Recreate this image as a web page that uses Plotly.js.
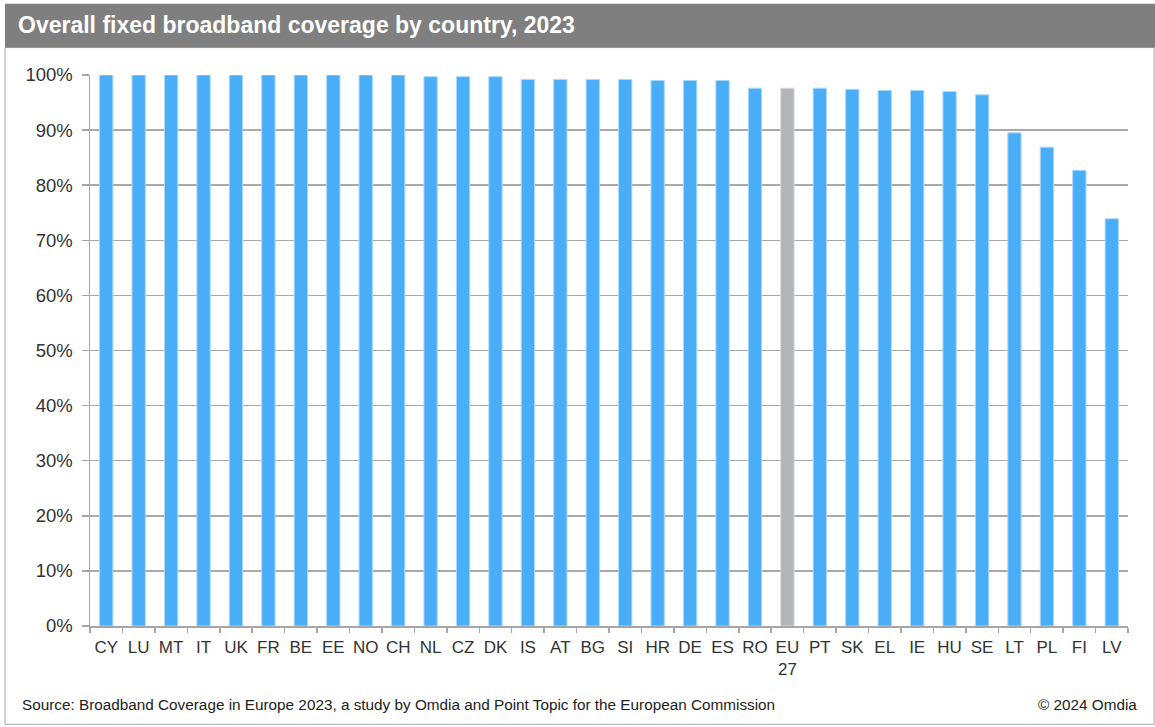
<!DOCTYPE html>
<html>
<head>
<meta charset="utf-8">
<script src="https://cdn.plot.ly/plotly-3.0.1.min.js"></script>
<style>
  html, body { margin: 0; padding: 0; background: #fff; }
  #chart { width: 1155px; height: 727px; }
</style>
</head>
<body>
<div id="chart"></div>
<script>
// Overall fixed broadband coverage by country, 2023 (share of households, %)
const countries = ['CY','LU','MT','IT','UK','FR','BE','EE','NO','CH','NL','CZ','DK','IS','AT','BG',
                   'SI','HR','DE','ES','RO','EU<br>27','PT','SK','EL','IE','HU','SE','LT','PL','FI','LV'];
const coverage = [100, 100, 100, 100, 100, 100, 100, 100, 100, 100, 99.7, 99.7, 99.7, 99.2, 99.2, 99.2,
                  99.2, 99.0, 99.0, 99.0, 97.6, 97.6, 97.6, 97.4, 97.2, 97.2, 97.0, 96.4, 89.5, 86.9, 82.7, 73.9];
const yTicks = [0, 10, 20, 30, 40, 50, 60, 70, 80, 90, 100];

const BLUE = '#4AADF8';
const GREY = '#B3B4B8';
const barColors = countries.map(c => c.startsWith('EU') ? GREY : BLUE);
const edgeColors = countries.map(c => c.startsWith('EU') ? '#D6D7DA' : '#A9D8FC');

// plot-area geometry in pixels, used to place the frame, banner and footer
const W = 1155, H = 727;
const L = 90, R = 1128, T = 74.5, B = 626.5;
const px = x => (x - L) / (R - L);
const py = y => (B - y) / (B - T);

const trace = {
  type: 'bar',
  x: countries,
  y: coverage,
  width: 0.41,
  marker: { color: barColors, line: { color: edgeColors, width: 1 } },
  hoverinfo: 'x+y'
};

const font = 'Arial, "Liberation Sans", sans-serif';

const layout = {
  width: W, height: H,
  margin: { l: L, r: W - R, t: T, b: H - B, pad: 0 },
  paper_bgcolor: '#ffffff',
  plot_bgcolor: '#ffffff',
  showlegend: false,
  bargap: 0.59,
  font: { family: font, color: '#333333', size: 17 },
  title: {
    text: '<b>Overall fixed broadband coverage by country, 2023</b>',
    font: { family: font, size: 23, color: '#ffffff' },
    xref: 'container', yref: 'container',
    x: 18 / W, xanchor: 'left',
    y: 1 - 25 / H, yanchor: 'middle'
  },
  xaxis: {
    type: 'category',
    showline: true, linecolor: '#A6A6A6', linewidth: 1.5,
    ticks: 'outside', tickson: 'boundaries', ticklen: 5, tickcolor: '#A6A6A6', tickwidth: 1.5,
    tickangle: 0,
    ticklabelstandoff: 5,
    tickfont: { family: font, size: 17, color: '#333333' },
    showgrid: false,
    fixedrange: true
  },
  yaxis: {
    range: [0, 100],
    tickvals: yTicks,
    ticktext: yTicks.map(v => v + '%'),
    showline: true, linecolor: '#A6A6A6', linewidth: 1.5,
    ticks: 'outside', ticklen: 7, tickcolor: '#A6A6A6', tickwidth: 1.5,
    ticklabelstandoff: 5,
    tickfont: { family: font, size: 18.5, color: '#333333' },
    showgrid: true, gridcolor: '#A9A9A9', gridwidth: 1.5,
    zeroline: false,
    fixedrange: true
  },
  shapes: [
    // outer frame
    { type: 'rect', xref: 'paper', yref: 'paper', layer: 'below',
      x0: px(5), x1: px(1154), y0: py(725), y1: py(47),
      line: { color: '#A6A6A6', width: 1 }, fillcolor: 'rgba(0,0,0,0)' },
    // title banner
    { type: 'rect', xref: 'paper', yref: 'paper', layer: 'below',
      x0: px(5), x1: px(1155), y0: py(47), y1: py(3),
      line: { width: 0 }, fillcolor: '#7F7F7F' }
  ],
  annotations: [
    { xref: 'paper', yref: 'paper', x: px(20), y: py(705), xanchor: 'left', yanchor: 'middle',
      showarrow: false, font: { family: font, size: 15.3, color: '#222222' },
      text: 'Source: Broadband Coverage in Europe 2023, a study by Omdia and Point Topic for the European Commission' },
    { xref: 'paper', yref: 'paper', x: px(1139), y: py(705), xanchor: 'right', yanchor: 'middle',
      showarrow: false, font: { family: font, size: 15.3, color: '#222222' },
      text: '© 2024 Omdia' }
  ]
};

Plotly.newPlot('chart', [trace], layout, { displayModeBar: false, staticPlot: true });
</script>
</body>
</html>
